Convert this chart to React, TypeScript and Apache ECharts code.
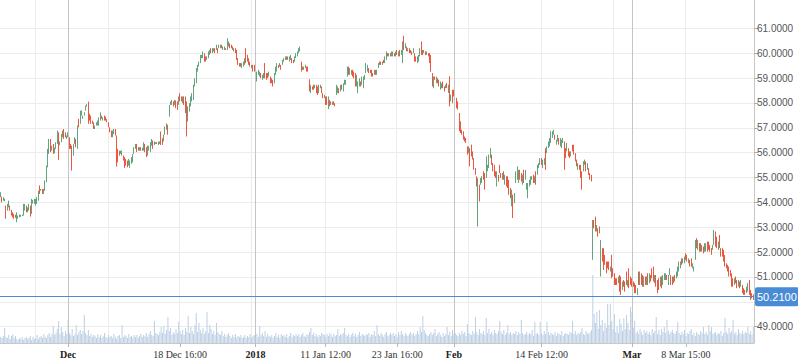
import { useEffect, useRef } from "react";
import * as echarts from "echarts";

// [open, close, low?, high?]
const candlesA: number[][] = [
  [54.21,54.41],[54.23,54.00],[54.07,54.21],[54.05,54.15],[53.87,53.55,53.34,53.87],[53.67,53.94],[53.80,54.07],[53.87,53.67],[53.70,53.47],[53.60,53.40],
  [53.54,53.34],[53.50,53.38],[53.40,53.54,53.20,53.60],[53.34,53.47],[53.40,53.51],[53.42,53.50],[53.45,53.50],[53.47,53.94],[53.67,53.94],[53.87,53.60],
  [53.60,53.80],[53.67,53.94],[53.87,53.43],[53.54,54.14],[53.95,54.10],[53.94,54.14],[53.87,54.14],[53.94,54.21],[54.07,54.47],[54.68,54.34],
  [54.54,54.47],[54.54,54.34],[54.34,54.54],[54.47,54.88],[54.81,55.48],[55.41,56.15],[55.95,56.55],[56.55,56.02],[56.08,56.28],[56.35,55.95],
  [55.98,56.20],[56.15,56.42],[56.35,56.89],[56.82,56.30,55.71,56.82],[56.30,56.45],[56.42,56.75],[56.62,56.89],[56.95,56.55],[56.82,56.62],[56.55,56.69],
  [56.62,56.82],[56.62,56.15],[56.35,56.15],[56.28,56.00,55.28,56.28],[55.88,56.35],[56.35,56.62],[56.55,56.22],[56.15,57.09],[57.36,57.02],[57.16,57.69],
  [57.49,57.69],[57.36,57.49],[57.49,57.62],[57.69,57.89],[57.85,57.95],[57.90,57.30,57.16,58.05],[57.56,57.29],[57.49,57.16],[57.29,57.16],[57.22,56.95],
  [56.95,57.09],[57.09,57.22],[57.09,57.29],[57.09,57.42],[57.29,57.62],[57.49,57.36],[57.29,57.42],[57.49,57.29],[57.45,57.29],[57.35,57.22],
  [57.22,57.02],[57.02,56.82],[56.89,56.62],[56.62,56.89],[56.75,56.95],[56.95,56.69],[56.69,55.90,55.44,56.69],[56.15,55.61],[56.08,55.88],[55.95,56.08],
  [55.88,56.08],[55.88,55.68],[55.82,55.39],[55.75,55.48],[55.68,55.41],[55.48,55.75],[55.39,55.68],[55.55,55.82],[55.61,55.95],[55.95,56.22],
  [56.15,56.35],[56.35,56.02],[56.22,56.08],[56.08,56.22],[56.22,56.08],[56.08,56.20],[56.08,56.42],[56.35,56.02],[56.22,55.82],[55.88,56.28],
  [56.08,56.28],[56.02,56.42],[56.28,56.55],[56.49,56.15],
];

const candlesB: number[][] = [
  [56.31,56.45],[56.35,56.42],[56.42,56.35],[56.31,56.45],[56.35,56.45],[56.70,56.40,56.31,56.85],[56.58,56.31],[56.45,56.72],[56.72,57.05],[56.92,57.18],
  [57.12,56.72],[57.45,57.92],[57.92,58.06],[57.92,58.12],[58.06,57.86],[57.92,58.12],[58.10,57.79],[58.06,57.72],[57.92,58.26],[58.39,58.06],
  [58.26,58.06],[57.99,58.26],[58.26,57.92],[58.26,57.59],[58.06,57.30,56.65,58.06],[57.25,57.86],[57.65,57.99],[57.86,58.26],[58.06,58.39],[58.12,58.73],
  [58.66,58.99],[58.79,59.40],[59.26,59.53],[59.46,59.66],[59.60,59.93],[59.80,59.93],[59.80,60.07],[60.00,59.66],[59.87,59.66],[59.73,59.87],
  [59.80,60.07],[59.93,60.13],[60.20,60.00],[60.00,60.20],[60.07,60.20],[60.20,60.00],[60.13,60.34],[60.20,60.00],[60.20,60.34],[60.20,60.34],
  [60.34,60.20],[60.13,60.27],[60.13,60.27],[60.20,60.13],[60.13,60.47,60.13,60.60],[60.27,60.47],[60.40,60.20],[60.34,60.20],[60.27,60.13],[60.07,60.20],
  [60.20,60.00],[60.13,59.73],[59.80,59.53],[59.60,59.46],[59.60,59.46],[59.40,59.60],[59.46,59.66],[59.53,59.80],[60.00,59.60,59.60,60.20],[59.93,59.66],
  [59.80,59.53],[59.66,59.46],[59.40,59.53],[59.53,59.26],[59.53,59.26],[59.46,59.00,58.59,59.46],[58.86,59.26],[59.13,59.33],[59.06,59.26],[59.20,58.99],
  [58.93,59.13],[58.99,59.20],[59.60,58.99],[59.20,58.93],[59.20,58.99],[59.06,59.26],[59.06,58.79],[58.99,58.79],[58.93,58.66],[58.79,59.20],
  [59.13,59.46],[59.26,59.60],[59.53,59.40],[59.46,59.60],[59.53,59.33],[59.53,59.73],[59.66,59.80],[59.73,59.87],[59.87,59.73],[59.73,59.87],
  [59.66,59.87],[59.73,59.93],[59.80,59.60],[59.73,59.60],[59.66,59.87],[59.80,60.00],[59.87,60.07],[60.00,60.20],[60.07,60.27],
];

const candlesC: number[][] = [
  [59.66,59.26],[59.46,59.33],[59.33,59.46],[59.40,59.53],[59.46,59.26],[59.46,59.26],[58.95,58.46],[58.39,58.73],[58.66,58.53],[58.73,58.53],
  [58.59,58.73],[58.73,58.39],[58.66,58.32],[58.39,58.73],[58.59,58.73],[58.66,58.39],[58.39,58.19],[58.19,58.32],[58.26,57.92],[58.26,57.92],
  [57.75,58.26],[58.12,57.86],[58.06,57.92],[57.92,58.06],[58.06,57.92],[57.99,57.86],[58.32,58.73],[58.39,58.66],[58.59,58.39],[58.46,58.73],
  [58.73,58.53],[58.46,58.79],[58.73,58.93],[58.73,58.93],[59.06,59.46],[59.46,59.13],[59.13,59.40],[59.13,59.33],[59.33,59.06],[59.26,58.99],
  [59.20,58.66],[58.66,59.13],[58.39,58.86],[58.66,58.99],[58.86,58.66],[58.73,59.06],[58.59,59.06],[58.93,59.13],[59.20,59.60],[59.26,59.53],
  [59.40,59.20],[59.33,59.20],[59.33,59.06],[59.20,59.06],[59.13,59.33],[59.33,59.13],[59.13,59.33],[59.40,59.60],[59.66,59.53],[59.66,59.53],
  [59.53,59.66],[59.73,59.60],[59.60,59.87],[59.73,60.07],[60.00,59.87],[59.87,60.00],[60.00,59.87],[59.87,60.07],[59.87,60.07],[60.00,59.87],
  [59.87,60.07],[60.13,59.93],[59.87,60.07],[60.13,59.87],[59.93,60.13],[59.60,60.47],[60.60,60.20,60.13,60.70],[60.20,60.40],[60.27,60.07],[60.07,60.20],
  [60.20,60.00],[60.13,60.00],[60.07,59.93],[60.00,60.20],[60.00,59.66],[59.87,59.66],[59.60,59.87],[59.66,59.93],[59.87,60.20],[60.47,59.93],
  [60.13,59.93],[60.00,60.13],[60.07,59.93],[59.93,60.07],[60.00,59.87],[60.00,59.60],[59.93,59.26],[59.20,58.66],[58.59,59.06],[59.06,58.93],
  [58.79,59.06],[58.99,58.79],[58.93,58.66],[58.53,58.86],[58.59,58.79],[58.86,58.59],[58.66,58.46],[58.59,58.73],
];

const candlesD: number[][] = [
  [58.80,58.60],[58.40,58.73],[58.95,57.95,57.86,59.07],[58.06,58.33],[58.53,57.99],[58.53,58.26],[58.40,58.13],[58.20,57.79],[58.06,57.73],[57.59,56.86],
  [57.26,56.79],[56.92,56.72],[56.86,56.52],[56.65,56.45],[56.59,56.39],[56.25,55.92],[55.98,56.25],[56.18,55.45],[56.32,55.85],[56.05,55.72],
  [55.78,55.31],[55.38,55.11],[55.05,54.64],[54.70,54.98,53.03,54.98],[54.71,54.04],[54.71,54.98],[54.78,55.05],[55.25,54.91],[55.18,54.51],[54.98,55.85],
  [55.25,55.51],[55.38,55.92],[55.78,56.18],[55.92,55.51],[55.58,55.25],[55.51,55.05],[55.25,54.98],[54.64,55.25],[55.11,54.84],[55.51,55.18],
  [55.18,54.98],[54.91,55.18],[55.25,54.91],[54.71,55.11],[55.05,54.64],[55.05,54.58],[54.91,54.31],[54.58,54.17],[53.84,54.51],[54.31,53.60,53.37,54.31],
  [53.97,54.38],[54.78,55.25],[54.91,55.45],[54.78,55.31],[55.31,54.91],[55.18,54.84],[54.71,55.11],[55.31,54.78],[54.91,55.31],[54.51,54.78],
  [54.17,54.78],[54.64,54.91],[54.71,55.05],[54.91,55.05],[55.11,54.78],[54.78,55.05],[55.25,54.71],[55.11,55.51],[55.38,55.58],[55.51,55.78],
  [55.78,55.51],[55.38,55.72],[55.51,55.78],[56.18,55.31],[55.98,56.25],[56.18,56.45],[56.25,56.59],[56.39,56.86],[56.59,56.86],[56.72,56.92],
  [56.72,56.52],[56.32,56.52],[56.45,56.72],[56.59,56.32],[56.25,56.59],[56.18,56.52],[56.39,56.59],[56.45,55.60,55.31,56.45],[56.18,55.78],[56.05,56.39],
  [56.18,55.85],[56.05,55.78],[55.85,56.05],[56.32,56.05],[56.32,55.92],[55.98,55.65],[55.72,55.45],[55.31,55.58],[55.51,55.31],[55.51,54.98],
  [55.25,54.51],[55.25,55.65],[55.51,55.72],[55.65,55.25],[55.31,55.58],[55.38,55.11],[55.18,54.91],[55.11,54.84],
];

const candlesE: number[][] = [
  [51.70,53.20,51.69,53.29],[53.29,52.96],[53.43,52.83],[52.83,53.09],[52.96,52.62],[53.03,52.76],[51.02,52.49],[52.16,51.62],[52.16,51.28],[51.89,51.49],
  [51.62,51.15],[51.62,51.35],[51.62,51.28],[51.22,51.42],[51.89,50.95],[51.35,51.02],[51.15,50.68],[50.95,50.68],[50.95,50.68],[50.75,51.02],
  [51.08,50.41],[51.02,50.28],[50.48,50.82],[50.88,50.61],[50.82,50.41],[51.22,50.68],[50.61,50.88],[51.35,50.55],[51.02,50.68],[50.95,50.61],
  [50.82,50.61],[50.75,50.35],[50.68,50.35],[50.28,50.55],[51.22,50.68],[50.68,51.22],[51.15,50.68],[51.08,50.61],[50.61,51.02],[51.02,50.68],
  [50.68,51.02],[51.15,50.68],[50.75,51.15],[51.08,50.82],[51.35,50.95],[51.42,50.82],[50.75,51.08],[51.08,50.61],[50.88,50.35],[50.95,50.48],
  [50.61,51.02],[51.02,50.55],[50.68,51.08],[50.88,51.15],[50.88,51.15],[51.08,50.88],[50.68,51.08],[51.08,51.35],[51.08,50.68],[51.02,50.68],
  [50.75,51.02],[51.08,50.82],[50.95,51.22],[51.02,51.42],[51.22,51.62],[51.35,51.62],[51.75,51.49],[51.55,51.75],[51.55,51.82],[51.95,51.69],
  [51.89,51.62],[51.55,51.75],[51.69,51.42],[51.75,51.42],[51.35,51.55],[51.22,51.42],[51.69,52.49],[52.56,52.16],[52.09,52.49],[52.36,52.02],
  [52.36,52.02],[52.02,52.29],[52.22,51.95],[52.02,52.36],[52.02,52.36],[52.42,52.02],[52.42,52.09],[52.29,52.02],[52.16,51.89],[52.09,52.29],
  [52.29,52.89],[52.83,52.22],[52.62,52.16],[52.09,52.42],[52.69,52.16],[52.16,51.82],[52.16,51.82],[52.09,51.62],[51.89,51.42],[51.55,51.35],
  [51.49,51.22],[51.42,51.02],[51.28,51.02],[51.15,50.61],[50.95,50.61],[50.68,50.95],[51.02,50.75],[50.88,50.55],[50.61,50.88],[50.82,50.55],
  [50.61,50.88],[50.68,50.35],[50.55,50.28],[50.48,50.28],[50.35,50.61],[50.41,50.75],[50.88,50.28],[50.48,50.08],[50.35,50.14],[50.28,50.21,50.08,50.30],
];

const volA = [
  6,5,7,15,6,5,8,4,7,9, 5,7,4,3,5,4,6,3,5,6, 4,5,7,3,6,4,5,8,4,6, 7,5,9,6,5,8,10,6,9,17,
  8,10,14,22,9,16,11,7,12,9, 23,10,8,14,7,9,18,8,11,13, 9,12,28,10,8,13,7,9,6,8, 7,5,9,6,8,5,7,10,6,5,
  8,6,7,5,9,6,4,7,8,5, 18,6,8,7,5,9,6,7,5,8, 6,8,5,7,9,6,8,7,10,6, 9,12,8,7,
];
const volB = [
  22,10,9,8,11,16, 10,17,9,13,26,12,15,8,11,9, 14,10,21,12,9,13,8,15,11,27, 10,16,12,9,18,30,11,20,13,10,
  15,9,12,31,10,18,14,9,12,8, 20,11,9,8,12,7,9,6,8,10, 7,5,8,6,9,5,7,6,8,5, 6,8,5,7,6,9,5,7,8,10,
  9,6,17,8,10,7,12,6,9,7, 6,8,5,7,10,6,8,5,9,7, 8,6,9,5,7,10,6,8,7,9, 7,9,6,
];
const volC = [
  8,10,7,6,9,8,11, 15,8,10,7,9,6,8,7,10,9, 8,6,9,7,10,8,6,9,7,8, 14,7,9,8,10,15,8,7,9,6,
  8,10,7,9,6,8,11,7,9,8, 7,9,8,10,6,9,8,12,7,18, 9,7,10,8,6,9,11,7,8,10, 8,10,7,9,6,11,8,12,9,7,
  10,8,7,9,11,8,10,7,9,12, 9,16,11,27,13,10,8,7,9,11, 8,10,14,7,9,11,8,6,10,7, 9,
];
const volD = [
  16,8,11,7,13,9,10,8,7, 10,8,12,9,11,7,19,10,9,8, 12,9,26,11,8,14,10,9,12,8, 25,10,14,9,11,8,13,10,9,12,
  22,11,9,13,8,10,18,9,11,8, 10,9,12,8,11,9,23,10,8,9, 11,8,10,9,13,7,21,9,10,8, 21,10,8,12,9,21,11,8,10,9,
  8,11,7,10,9,8,12,7,9,10, 9,8,11,10,22,9,12,8,10,9, 11,15,9,8,12,10,9,11,13,
];
const volE = [
  68, 29,20,31,14,33,18,23,12,20,15, 39,18,39,22,14,29,11,17,10,24, 19,12,25,14,28,20,13,36,31,15,
  22,10,12,9,14,11,8,13,10,12, 9,11,8,14,10,12,26,9,13,8, 14,11,16,10,23,12,9,11,13,10,
  9,12,21,10,8,11,9,13,7,10, 9,12,14,8,10,7,11,9,8,12, 10,16,9,11,8,18,12,16,9,10,
  11,8,10,9,12,7,10,25,11,9, 15,10,12,23,9,11,8,14,10,9, 12,9,11,10,16,9,12,8,16,
];

const monthLabels = ["Dec", "2018", "Feb", "Mar"];
const monthIndex = [50, 189, 336, 468];
const timeLabels = ["18 Dec 16:00", "11 Jan 12:00", "23 Jan 16:00", "14 Feb 12:00", "8 Mar 15:00"];
const timeIndex = [133, 241, 294, 401, 508];
const gridIndex = [26, 80, 133, 186, 241, 294, 347, 401, 455, 508];
const priceTicks = [49, 50, 51, 52, 53, 54, 55, 56, 57, 58, 59, 60, 61];
const lastPrice = 50.21;
const priceMin = 48.346;
const priceMax = 62.138;
const volumeAxisMax = 343;

export default function App() {
  const ref = useRef<HTMLDivElement>(null);
  useEffect(() => {
    const el = ref.current;
    if (!el) return;
    const chart = echarts.init(el, null, { renderer: "svg" });
    const candles = [...candlesA, ...candlesB, ...candlesC, ...candlesD, ...candlesE];
    const volumes = [...volA, ...volB, ...volC, ...volD, ...volE];
    const data = candles.map((d) => {
      const o = d[0], c = d[1];
      const l = d.length > 2 ? d[2] : Math.min(o, c);
      const h = d.length > 3 ? d[3] : Math.max(o, c);
      return [o, c, l, h];
    });
    const categories = candles.map((_, i) => String(i));
    const labelMap = new Map<number, string>();
    monthIndex.forEach((idx, k) => labelMap.set(idx, "{m|" + monthLabels[k] + "}"));
    timeIndex.forEach((idx, k) => labelMap.set(idx, timeLabels[k]));
    const gridSet = new Set(gridIndex);
    // the price tag covers the tick label nearest the last price
    const labelTicks = priceTicks.filter((v) => Math.abs(v - lastPrice) > 0.5);

    chart.setOption({
      animation: false,
      backgroundColor: "#ffffff",
      grid: { left: 0, right: 44, top: 0, bottom: 20 },
      xAxis: {
        type: "category",
        data: categories,
        boundaryGap: true,
        axisLine: { show: true, lineStyle: { color: "#c8c8c8", width: 1 } },
        axisTick: {
          show: true,
          alignWithLabel: true,
          length: 4,
          interval: (i: number) => labelMap.has(i),
          lineStyle: { color: "#b8b8b8" },
        },
        axisLabel: {
          interval: (i: number) => labelMap.has(i),
          formatter: (_v: string, i: number) => labelMap.get(i) ?? "",
          margin: 6,
          color: "#333",
          fontFamily: "'Liberation Serif', 'Times New Roman', serif",
          fontSize: 10,
          rich: { m: { fontWeight: "bold", color: "#222", fontFamily: "'Liberation Serif', serif", fontSize: 10 } },
        },
        splitLine: {
          show: true,
          interval: (i: number) => gridSet.has(i),
          lineStyle: { color: "#ececec", width: 1 },
        },
      },
      yAxis: [
        {
          type: "value",
          position: "right",
          min: priceMin,
          max: priceMax,
          axisLine: { show: true, lineStyle: { color: "#c8c8c8", width: 1 } },
          axisTick: { show: true, length: 4, customValues: priceTicks, lineStyle: { color: "#aaa" } },
          axisLabel: {
            customValues: labelTicks,
            formatter: (v: number) => v.toFixed(4),
            color: "#555",
            fontSize: 10,
            margin: 3,
            fontFamily: "'Liberation Sans', Arial, sans-serif",
          },
          splitLine: { show: true, lineStyle: { color: "#ececec", width: 1 } },
        },
        {
          type: "value",
          min: 0,
          max: volumeAxisMax,
          show: false,
          splitLine: { show: false },
        },
      ],
      series: [
        {
          type: "bar",
          name: "Volume",
          yAxisIndex: 1,
          data: volumes,
          barWidth: 1,
          silent: true,
          itemStyle: { color: "#bccfe4" },
          z: 1,
        },
        {
          type: "candlestick",
          name: "Price",
          data,
          barWidth: 0.8,
          silent: true,
          z: 3,
          itemStyle: {
            color: "#62a47e",
            color0: "#ea5840",
            borderColor: "#62a47e",
            borderColor0: "#ea5840",
            borderWidth: 1,
          },
          markLine: {
            symbol: "none",
            silent: true,
            animation: false,
            data: [
              ...monthIndex.map((idx) => ({
                xAxis: idx,
                lineStyle: { color: "#c4c4c4", width: 1, type: "solid" },
                label: { show: false },
              })),
              {
                yAxis: lastPrice,
                lineStyle: { color: "#4a8bd5", width: 1, type: "solid" },
                label: {
                  show: true,
                  position: "end",
                  distance: 1,
                  formatter: lastPrice.toFixed(4),
                  backgroundColor: "#4a8bd5",
                  color: "#ffffff",
                  fontSize: 11,
                  fontFamily: "'Liberation Sans', Arial, sans-serif",
                  padding: [4, 2, 4, 2],
                  borderRadius: 2,
                },
              },
            ],
          },
        },
      ],
    });
    return () => chart.dispose();
  }, []);
  return (
    <div
      ref={ref}
      style={{ position: "fixed", left: 0, top: 0, width: 798, height: 363 }}
    />
  );
}
